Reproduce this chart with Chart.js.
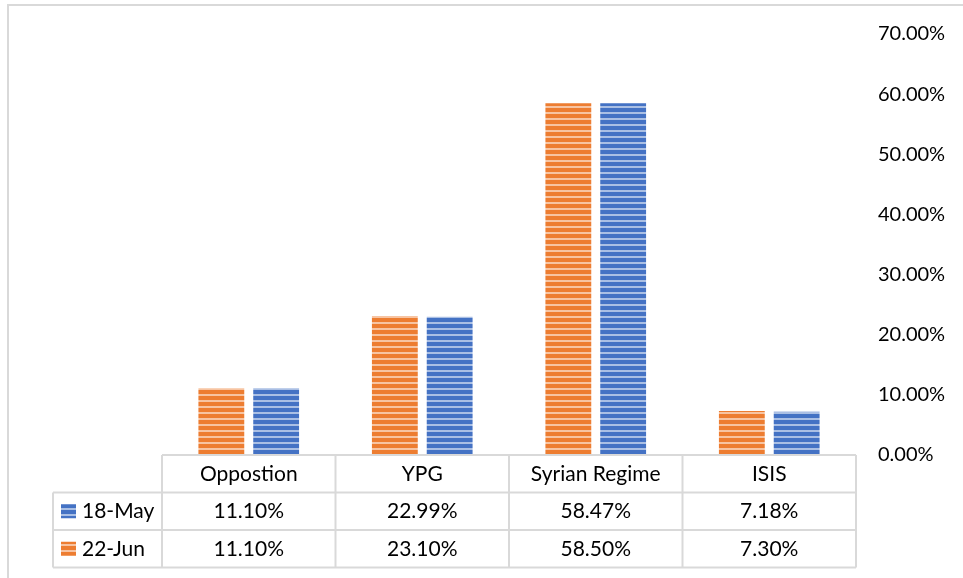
<!DOCTYPE html>
<html>
<head>
<meta charset="utf-8">
<script src="https://cdn.jsdelivr.net/npm/chart.js@4"></script>
<style>
    html, body { margin: 0; padding: 0; background: #ffffff; }
    #contenedor { width: 963px; height: 578px; }
</style>
</head>
<body>
<div id="contenedor"><canvas id="grafico" width="963" height="578"></canvas></div>
<script>
// Datos del gráfico
const categorias = ["Oppostion", "YPG", "Syrian Regime", "ISIS"];
const serieMayo = [11.10, 22.99, 58.47, 7.18];
const serieJunio = [11.10, 23.10, 58.50, 7.30];
const nombreMayo = "18-May";
const nombreJunio = "22-Jun";
const ticksY = [0, 10, 20, 30, 40, 50, 60, 70];

const fuente = "Lato, 'Open Sans', sans-serif";
const colorLinea = "#d9d9d9";

document.addEventListener("DOMContentLoaded", function () {
    // Crear un patrón de rayas horizontales como en Excel
    function crearRayas(color) {
        const c = document.createElement("canvas");
        c.width = 6;
        c.height = 6;
        const g = c.getContext("2d");
        g.fillStyle = color;
        g.fillRect(0, 0, 6, 6);
        g.fillStyle = "rgba(255,255,255,0.55)";
        g.fillRect(0, 4, 6, 2);
        return g.createPattern(c, "repeat");
    }

    const rayasNaranja = crearRayas("#ed7d31");
    const rayasAzul = crearRayas("#4472c4");

    // Plugin para el borde exterior y la tabla de datos
    const tablaDatos = {
        id: "tablaDatos",
        afterDraw(chart) {
            const ctx = chart.ctx;
            const area = chart.chartArea;
            const x = chart.scales.x;
            const filaAlto = 37.5;
            const colIzq = 53;
            const anchoCat = (area.right - area.left) / categorias.length;
            const arriba = area.bottom;

            ctx.save();
            // borde exterior del gráfico
            ctx.strokeStyle = colorLinea;
            ctx.lineWidth = 2;
            ctx.beginPath();
            ctx.moveTo(8, 578);
            ctx.lineTo(8, 5);
            ctx.lineTo(963, 5);
            ctx.stroke();

            // líneas de la tabla
            ctx.beginPath();
            ctx.moveTo(area.left, arriba);
            ctx.lineTo(area.right, arriba);
            for (let f = 1; f <= 3; f++) {
                ctx.moveTo(colIzq, arriba + f * filaAlto);
                ctx.lineTo(area.right, arriba + f * filaAlto);
            }
            for (let i = 0; i <= categorias.length; i++) {
                const px = area.left + i * anchoCat;
                ctx.moveTo(px, arriba);
                ctx.lineTo(px, arriba + 3 * filaAlto);
            }
            ctx.moveTo(colIzq, arriba + filaAlto);
            ctx.lineTo(colIzq, arriba + 3 * filaAlto);
            ctx.stroke();

            // textos
            ctx.fillStyle = "#000000";
            ctx.font = "21px " + fuente;
            ctx.textAlign = "center";
            ctx.textBaseline = "middle";
            const filas = [serieMayo, serieJunio];
            categorias.forEach((cat, i) => {
                const cx = x.getPixelForValue(i);
                ctx.fillText(cat, cx, arriba + filaAlto * 0.5);
                filas.forEach((serie, f) => {
                    ctx.fillText(serie[i].toFixed(2) + "%", cx, arriba + filaAlto * (f + 1.5));
                });
            });

            // cabeceras de las series con su clave
            const claves = [[nombreMayo, rayasAzul], [nombreJunio, rayasNaranja]];
            ctx.textAlign = "left";
            claves.forEach((clave, f) => {
                const cy = arriba + filaAlto * (f + 1.5);
                ctx.fillStyle = clave[1];
                ctx.fillRect(61, cy - 7, 15, 14);
                ctx.fillStyle = "#000000";
                ctx.fillText(clave[0], 82, cy);
            });
            ctx.restore();
        }
    };

    const ctx = document.getElementById("grafico").getContext("2d");
    new Chart(ctx, {
        type: "bar",
        data: {
            labels: categorias,
            datasets: [
                {
                    label: nombreJunio,
                    data: serieJunio,
                    backgroundColor: rayasNaranja,
                    borderWidth: 0,
                    categoryPercentage: 0.632,
                    barPercentage: 0.836
                },
                {
                    label: nombreMayo,
                    data: serieMayo,
                    backgroundColor: rayasAzul,
                    borderWidth: 0,
                    categoryPercentage: 0.632,
                    barPercentage: 0.836
                }
            ]
        },
        options: {
            responsive: false,
            animation: false,
            layout: {
                padding: { left: 162, top: 34, bottom: 123, right: 0 }
            },
            plugins: {
                legend: { display: false },
                tooltip: { enabled: false }
            },
            scales: {
                x: {
                    display: false
                },
                y: {
                    position: "right",
                    min: 0,
                    max: 70,
                    afterFit(scale) {
                        scale.width = 107;
                    },
                    afterBuildTicks(scale) {
                        scale.ticks = ticksY.map((v) => ({ value: v }));
                    },
                    grid: { display: false, drawTicks: false, tickLength: 0 },
                    border: { display: false },
                    ticks: {
                        padding: 22,
                        color: "#000000",
                        font: { family: fuente, size: 20 },
                        callback: (v) => Number(v).toFixed(2) + "%"
                    }
                }
            }
        },
        plugins: [tablaDatos]
    });
});
</script>
</body>
</html>
